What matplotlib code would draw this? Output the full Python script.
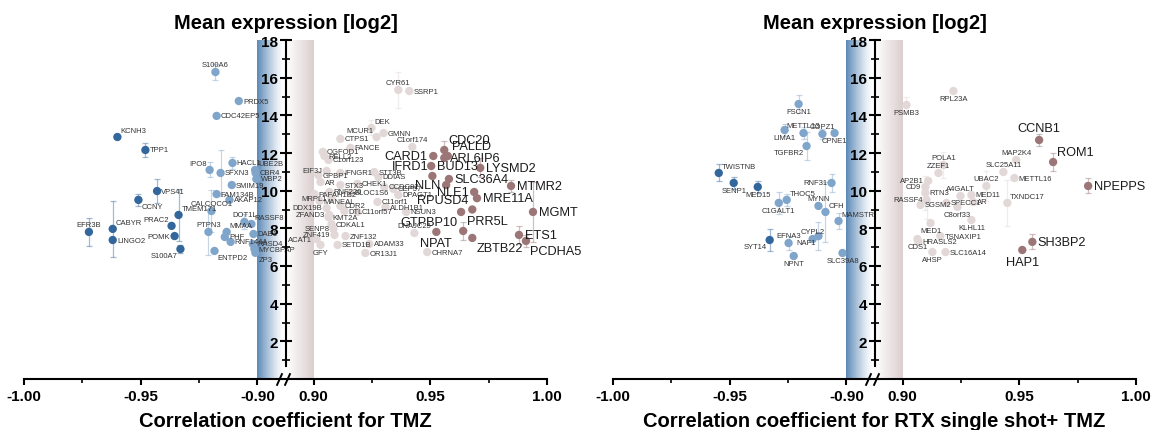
import numpy as np
import matplotlib.pyplot as plt
from matplotlib.path import Path
from matplotlib.ticker import FixedLocator
from matplotlib.colors import to_rgb

plt.rcParams['font.family'] = ['Liberation Sans', 'DejaVu Sans']

# ---- data: TMZ panel ----
tmz_genes = ['S100A6', 'PRDX5', 'CDC42EP5', 'KCNH3', 'TPP1',
             'IPO8', 'SFXN3', 'HACL1', 'UBE2B', 'CBR4',
             'WBP2', 'SMIM19', 'VPS41', 'CCNY', 'FAM134B',
             'AKAP12', 'CALCOCO1', 'TMEM171', 'PRAC2', 'EFR3B',
             'CABYR', 'LINGO2', 'POMK', 'S100A7', 'PTPN3',
             'MMAA', 'DOT1L', 'RASSF8', 'PHF', 'DAB1',
             'RNF144A', 'RASD4', 'MYCBPAP', 'ZP3', 'ENTPD2',
             'CYR61', 'SSRP1', 'DEK', 'MCUR1', 'GMNN',
             'CTPS1', 'FANCE', 'OGFOD1', 'RELL2', 'C1orf123',
             'C1orf174', 'CDC20', 'PALLD', 'ARL6IP6', 'CARD1',
             'BUD13', 'IFRD1', 'LYSMD2', 'SLC36A4', 'NLN',
             'MTMR2', 'NLE1', 'MRE11A', 'RPUSD4', 'MGMT',
             'GTPBP10', 'DNAJC25', 'PRR5L', 'NPAT', 'ETS1',
             'ZBTB22', 'PCDHA5', 'CHRNA7', 'OR13J1', 'ADAM33',
             'SETD1B', 'ZNF132', 'GFY', 'SENP8', 'ZNF419',
             'ACAT1', 'CDKAL1', 'KMT2A', 'DTL', 'CDR2',
             'C11orf57', 'NSUN3', 'ALDH1B1', 'C11orf1', 'DPAGT1',
             'CEP57', 'BLOC1S6', 'RNF220', 'STX3', 'CHEK1',
             'CCDC82', 'AR', 'GPBP1', 'EIF3J', 'IFNGR1',
             'STT3B', 'DDIAS', 'MRPL1', 'PAFAH1B2', 'MANEAL',
             'DDX19B', 'ZFAND3']
tmz_corr = [-0.918, -0.908, -0.9175, -0.960, -0.948,
            -0.9205, -0.9158, -0.9107, -0.9010, -0.9008,
            -0.9005, -0.911, -0.943, -0.951, -0.9175,
            -0.912, -0.9197, -0.9338, -0.9368, -0.9722,
            -0.962, -0.962, -0.9355, -0.933, -0.921,
            -0.9132, -0.9056, -0.9026, -0.914, -0.9017,
            -0.9115, -0.902, -0.9013, -0.9009, -0.9184,
            0.9363, 0.941, 0.9248, 0.927, 0.930,
            0.9115, 0.9158, 0.904, 0.9047, 0.9064,
            0.9423, 0.956, 0.9575, 0.956, 0.9513,
            0.9504, 0.9509, 0.9714, 0.958, 0.9568,
            0.9846, 0.9688, 0.970, 0.968, 0.994,
            0.9632, 0.9432, 0.9641, 0.9526, 0.988,
            0.968, 0.991, 0.9487, 0.9222, 0.9239,
            0.9103, 0.9137, 0.903, 0.9085, 0.909,
            0.9013, 0.9077, 0.9064, 0.9132, 0.9115,
            0.9188, 0.9397, 0.9308, 0.9274, 0.9363,
            0.9342, 0.9158, 0.9068, 0.9115, 0.9188,
            0.9303, 0.903, 0.902, 0.9056, 0.9115,
            0.926, 0.9278, 0.9077, 0.9004, 0.9026,
            0.9056, 0.9068]
tmz_expr = [16.30, 14.76, 13.97, 12.85, 12.16,
            11.10, 10.94, 11.47, 11.10, 10.94,
            10.62, 10.30, 9.98, 9.51, 9.82,
            9.51, 8.92, 8.71, 8.13, 7.81,
            7.97, 7.38, 7.59, 6.90, 7.81,
            7.81, 8.34, 8.23, 7.54, 7.70,
            7.28, 7.17, 6.90, 6.70, 6.80,
            15.35, 15.29, 13.33, 12.85, 13.06,
            12.75, 12.27, 12.06, 11.84, 11.63,
            12.32, 12.16, 11.84, 11.74, 11.84,
            11.31, 10.78, 11.21, 10.62, 10.30,
            10.25, 9.93, 9.60, 9.00, 8.87,
            8.87, 7.75, 7.86, 7.81, 7.65,
            7.49, 7.33, 6.74, 6.69, 7.17,
            7.12, 7.59, 7.12, 7.97, 7.65,
            7.43, 8.23, 8.60, 8.92, 9.19,
            8.87, 8.87, 9.13, 9.40, 9.77,
            10.09, 9.88, 9.93, 10.30, 10.36,
            10.20, 10.46, 10.83, 11.05, 10.94,
            10.99, 10.73, 9.61, 9.82, 9.45,
            9.08, 8.71]
tmz_err = [0.4, 0, 0, 0, 0.35,
           0.4, 1.2, 0.3, 0, 0,
           0, 0, 0.65, 0.3, 0,
           0, 1.1, 1.4, 0, 0.75,
           1.5, 0, 0, 0.2, 1.2,
           0, 0.4, 0, 0, 0,
           0, 0, 0, 0, 0,
           0.95, 0, 0.4, 0, 0,
           0, 0, 0, 0, 0,
           0, 0.5, 0, 0, 0,
           0, 0, 0.5, 0, 0,
           0.3, 0, 0, 0, 1.6,
           0, 0, 0.5, 0, 0.5,
           0, 0.3, 0, 0, 0,
           0, 0, 0, 0, 0,
           0, 0, 0, 0, 0,
           0, 0, 0, 0, 0,
           0, 0, 0, 0, 0,
           0, 0, 0, 0, 0,
           0, 0, 0, 0, 0,
           0, 0]
tmz_label_pos = ['u', 'r', 'r', 'ur', 'r',
                 'ul', 'r', 'r', 'ur', 'r',
                 'r', 'r', 'r', 'dr', 'r',
                 'r', 'u', 'ur', 'ul', 'u',
                 'ur', 'r', 'l', 'dl', 'u',
                 'ur', 'u', 'ur', 'r', 'r',
                 'r', 'r', 'r', 'dr', 'dr',
                 'u', 'r', 'ur', 'ul', 'r',
                 'r', 'r', 'r', 'r', 'r',
                 'u', 'ur', 'ur', 'r', 'l',
                 'r', 'ul', 'r', 'r', 'l',
                 'r', 'l', 'r', 'ul', 'r',
                 'dl', 'u', 'ur', 'd', 'r',
                 'dr', 'dr', 'r', 'r', 'r',
                 'r', 'r', 'd', 'l', 'l',
                 'l', 'r', 'r', 'r', 'r',
                 'r', 'r', 'r', 'r', 'r',
                 'r', 'r', 'r', 'r', 'r',
                 'r', 'r', 'r', 'l', 'r',
                 'r', 'r', 'l', 'r', 'r',
                 'l', 'l']

# ---- data: RTX single shot + TMZ panel ----
rtx_genes = ['FSCN1', 'LIMA1', 'METTL13', 'COPZ1', 'CPNE1',
             'TGFBR2', 'TWISTNB', 'SENP1', 'MED15', 'RNF31',
             'THOC5', 'C1GALT1', 'MYNN', 'CFH', 'MAMSTR',
             'SYT14', 'EFNA3', 'CYPL2', 'NAF1', 'NPNT',
             'SLC39A8',
             'PSMB3', 'RPL23A', 'CCNB1', 'ROM1', 'NPEPPS',
             'SH3BP2', 'HAP1', 'MAP2K4', 'SLC25A11', 'METTL16',
             'UBAC2', 'TXNDC17', 'MED11', 'AR', 'A4GALT',
             'POLA1', 'ZZEF1', 'AP2B1', 'CD9', 'RTN3',
             'RASSF4', 'SGSM2', 'SPECC1', 'C8orf33', 'KLHL11',
             'MED1', 'TSNAXIP1', 'HRASLS2', 'CDS1', 'AHSP',
             'SLC16A14']
rtx_corr = [-0.9205, -0.9265, -0.9184, -0.9103, -0.9051,
            -0.9171, -0.9547, -0.9483, -0.938, -0.9064,
            -0.9256, -0.929, -0.912, -0.909, -0.9034,
            -0.9329, -0.9248, -0.9145, -0.912, -0.9226,
            -0.9017,
            0.9017, 0.9218, 0.9585, 0.9645, 0.9795,
            0.9556, 0.9513, 0.9487, 0.9432, 0.9479,
            0.9359, 0.9449, 0.9295, 0.9303, 0.9248,
            0.9175, 0.9154, 0.911, 0.9098, 0.9098,
            0.9103, 0.9077, 0.9188, 0.9235, 0.9295,
            0.912, 0.9162, 0.9068, 0.9064, 0.9128,
            0.9184]
rtx_expr = [14.60, 13.22, 13.06, 13.01, 13.06,
            12.37, 10.94, 10.41, 10.20, 10.41,
            9.51, 9.35, 9.19, 8.87, 8.39,
            7.38, 7.22, 7.43, 7.59, 6.53,
            6.69,
            14.55, 15.29, 12.69, 11.52, 10.25,
            7.28, 6.85, 11.63, 10.99, 10.67,
            10.25, 9.35, 9.77, 9.40, 9.72,
            11.36, 10.94, 10.52, 10.20, 9.88,
            9.51, 9.24, 9.35, 9.14, 8.44,
            8.28, 7.59, 7.28, 7.43, 6.74,
            6.74]
rtx_err = [0.5, 0.3, 0.3, 0.25, 0,
           0.75, 0.45, 0.3, 0.3, 0.5,
           0.3, 0.6, 0, 1.6, 0.4,
           0.6, 0.35, 0, 0.75, 0,
           0,
           0.4, 0, 0.3, 0.5, 0.4,
           0.4, 0, 0, 0, 0,
           0.8, 1.2, 0, 0, 0,
           0.7, 0, 0, 0, 0.9,
           1.0, 0, 0, 0, 0,
           0, 0, 0, 0, 0,
           0]
rtx_label_pos = ['d', 'd', 'u', 'u', 'd',
                 'dl', 'ur', 'd', 'd', 'l',
                 'ur', 'd', 'u', 'ur', 'ur',
                 'dl', 'u', 'u', 'dl', 'd',
                 'd',
                 'd', 'd', 'u', 'ur', 'r',
                 'r', 'd', 'u', 'u', 'r',
                 'u', 'ur', 'r', 'r', 'u',
                 'u', 'u', 'l', 'l', 'r',
                 'l', 'r', 'r', 'd', 'd',
                 'd', 'r', 'r', 'd', 'd',
                 'r']

x_ticks = [-1.0, -0.95, -0.9, 0.9, 0.95, 1.0]
x_tick_labels = ['-1.00', '-0.95', '-0.90', '0.90', '0.95', '1.00']


# broken axis: -1..-0.9 and 0.9..1 with a narrow gap in between
def fwd(r):
    r = np.asarray(r, dtype=float)
    mid = -0.9 + (r + 0.9) / 1.8 * 0.024
    return np.where(r <= -0.9, r, np.where(r >= 0.9, r - 1.776, mid))


def inv(u):
    u = np.asarray(u, dtype=float)
    mid = -0.9 + (u + 0.9) / 0.024 * 1.8
    return np.where(u <= -0.9, u, np.where(u >= -0.876, u + 1.776, mid))


def point_color(r):
    if r <= -0.93:
        return '#33679c'
    if r < 0:
        return '#80a5cb'
    if r >= 0.95:
        return '#9c7577'
    return '#e2d8d8'


OFFS = {'r': (1, 0, 'left', 'center'), 'l': (-1, 0, 'right', 'center'),
        'u': (0, 1, 'center', 'bottom'), 'd': (0, -1, 'center', 'top'),
        'ur': (0.7, 0.7, 'left', 'bottom'), 'ul': (-0.7, 0.7, 'right', 'bottom'),
        'dr': (0.7, -0.7, 'left', 'top'), 'dl': (-0.7, -0.7, 'right', 'top')}


def blend(c, t, base='white'):
    c0 = np.array(to_rgb(base))
    c1 = np.array(to_rgb(c))
    return tuple(c0 + (c1 - c0) * t)


def draw_panel(ax, genes, corr, expr, err, label_pos, xlabel):
    ax.set_xscale('function', functions=(fwd, inv))
    ax.set_xlim(-1.0, 1.0)
    ax.set_ylim(0, 18)

    # gradient bands next to the break
    edges = np.linspace(-0.9, -0.06, 41)
    for i in range(40):
        t = 1 - i / 40
        ax.axvspan(edges[i], edges[i + 1], color=blend('#5f8bb8', t ** 1.3),
                   lw=0, zorder=0)
    edges = np.linspace(0.02, 0.9, 41)
    for i in range(40):
        t = (i + 1) / 40
        ax.axvspan(edges[i], edges[i + 1], color=blend('#dccfcf', t),
                   lw=0, zorder=0)

    for r, v, e in zip(corr, expr, err):
        if e > 0:
            ax.errorbar(r, v, yerr=e, fmt='none', ecolor=point_color(r),
                        alpha=0.45, elinewidth=0.9, capsize=2.5, capthick=0.9,
                        zorder=2)
    ax.scatter(corr, expr, s=36, c=[point_color(r) for r in corr],
               linewidths=0, zorder=3)

    for g, r, v, p in zip(genes, corr, expr, label_pos):
        big = r >= 0.95
        k = 4.0 if big else 3.0
        dx, dy, ha, va = OFFS[p]
        ax.annotate(g, (r, v), xytext=(dx * k, dy * k), textcoords='offset points',
                    ha=ha, va=va, fontsize=9.2 if big else 5.5,
                    color='#1a1a1a' if big else '#333333', zorder=4,
                    annotation_clip=False)

    for s in ['top', 'right']:
        ax.spines[s].set_visible(False)
    ax.spines['left'].set_position(('data', 0))
    ax.spines['left'].set_bounds(0.7, 18)
    ax.spines['left'].set_linewidth(1.5)
    ax.spines['bottom'].set_linewidth(1.5)
    ax.spines['left'].set_zorder(5)

    ax.xaxis.set_major_locator(FixedLocator(x_ticks))
    ax.xaxis.set_minor_locator(FixedLocator([-0.975, -0.925, 0.925, 0.975]))
    ax.set_xticklabels(x_tick_labels)
    ax.yaxis.set_major_locator(FixedLocator(range(2, 19, 2)))
    ax.yaxis.set_minor_locator(FixedLocator(range(1, 18, 2)))
    ax.tick_params(axis='x', which='major', direction='out', length=4.5, width=1.5,
                   labelsize=11, pad=2.5)
    ax.tick_params(axis='x', which='minor', direction='out', length=3, width=1.2)
    ax.tick_params(axis='y', which='major', direction='inout', length=9, width=1.5,
                   labelsize=11, pad=1)
    ax.tick_params(axis='y', which='minor', direction='inout', length=5.5, width=1.2)
    for lab in ax.get_xticklabels() + ax.get_yticklabels():
        lab.set_fontweight('bold')

    # break marks on the x axis
    slash = Path([(-0.45, -1), (0.45, 1)], [Path.MOVETO, Path.LINETO])
    ax.plot([-0.2, 0.06], [0, 0], ls='none', marker=slash, ms=9, mew=1.4,
            color='black', clip_on=False, zorder=6)

    ax.set_title('Mean expression [log2]', fontsize=14.5, fontweight='bold', pad=8.5)
    ax.set_xlabel(xlabel, fontsize=14.5, fontweight='bold', labelpad=6)


fig = plt.figure(figsize=(11.55, 4.31), dpi=100)
ax1 = fig.add_axes([24 / 1155, 51 / 431, 523 / 1155, 339 / 431])
ax2 = fig.add_axes([613 / 1155, 51 / 431, 523 / 1155, 339 / 431])

draw_panel(ax1, tmz_genes, tmz_corr, tmz_expr, tmz_err, tmz_label_pos,
           'Correlation coefficient for TMZ')
draw_panel(ax2, rtx_genes, rtx_corr, rtx_expr, rtx_err, rtx_label_pos,
           'Correlation coefficient for RTX single shot+ TMZ')

fig.savefig('out.png', dpi=100)
